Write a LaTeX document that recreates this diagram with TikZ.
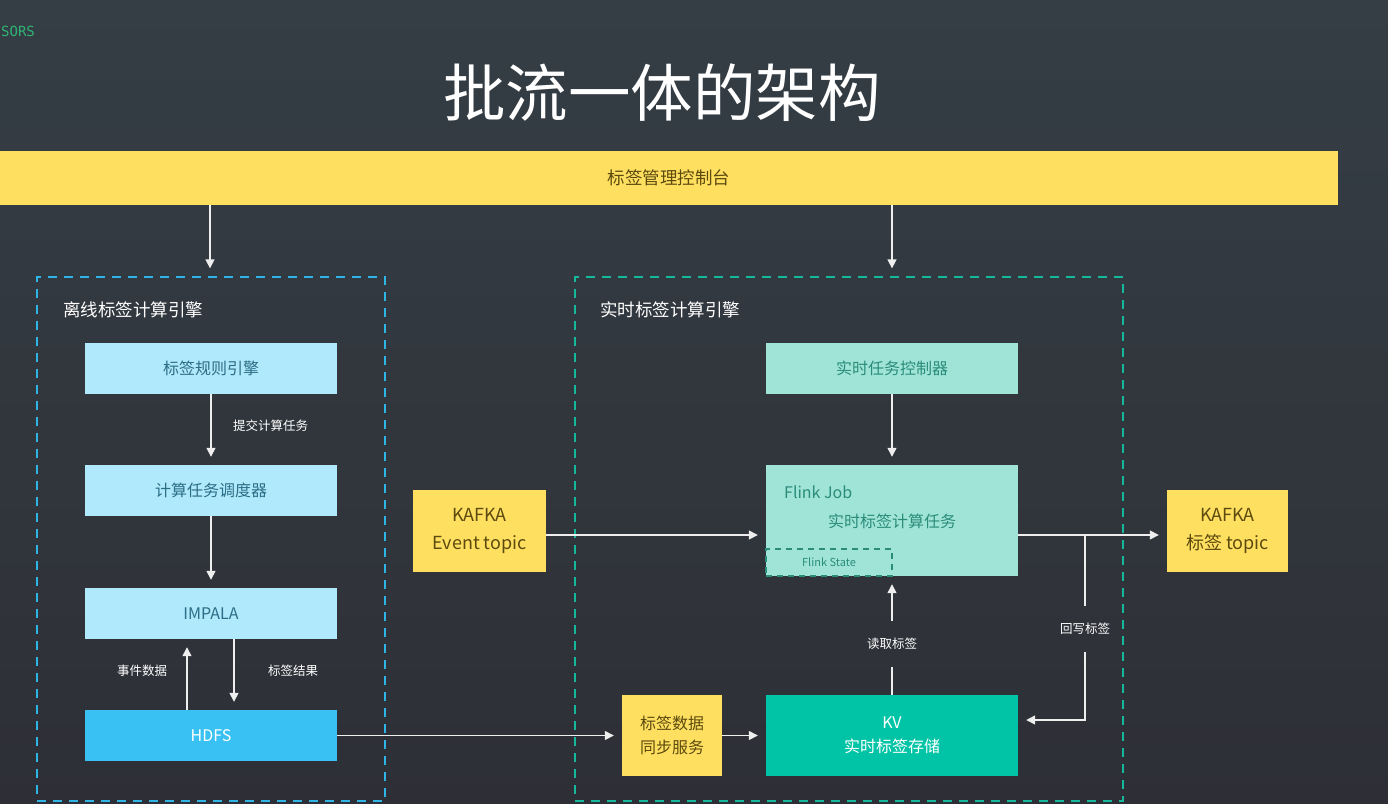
\documentclass[tikz,border=0pt]{standalone}
\usepackage{fontspec}
\setmainfont{Noto Sans CJK SC}
\newfontfamily\monofont{DejaVu Sans Mono}
\usetikzlibrary{arrows.meta}
\definecolor{bgtop}{HTML}{353E45}
\definecolor{bgbot}{HTML}{2E2F36}
\definecolor{ylw}{HTML}{FEDF60}
\definecolor{ylwtxt}{HTML}{5C4A0E}
\definecolor{lblue}{HTML}{B0E8FC}
\definecolor{lbluetxt}{HTML}{2B6E85}
\definecolor{hdfsc}{HTML}{38C1F2}
\definecolor{lteal}{HTML}{A0E4D8}
\definecolor{ltealtxt}{HTML}{2A8C79}
\definecolor{kvc}{HTML}{00C4A5}
\definecolor{dashblue}{HTML}{2EB5E6}
\definecolor{dashteal}{HTML}{14B89A}
\definecolor{linec}{HTML}{EEEEEE}
\definecolor{logoc}{HTML}{2FB574}
\tikzset{
  box/.style={inner sep=0pt, align=center, font=\fontsize{16}{22}\selectfont},
  ybox/.style={box, fill=ylw, text=ylwtxt},
  bbox/.style={box, fill=lblue, text=lbluetxt, minimum width=252pt, minimum height=51pt},
  tbox/.style={box, fill=lteal, text=ltealtxt},
  frame/.style={draw, dashed, dash pattern=on 9pt off 7pt, line width=1.3pt, inner sep=0pt},
  conn/.style={draw=linec, line width=1.4pt},
  arr/.style={conn, -{Triangle[length=9pt,width=9pt]}, shorten >=8pt},
  small/.style={text=white, font=\fontsize{12.5}{14}\selectfont, inner sep=0pt},
  hdr/.style={text=white, font=\fontsize{17.5}{20}\selectfont, anchor=west, inner sep=0pt},
}
\begin{document}
\begin{tikzpicture}[x=1pt,y=-1pt]
\useasboundingbox (0,0) rectangle (1388,803);
\shade[top color=bgtop, bottom color=bgbot] (0,0) rectangle (1388,803);
\node[anchor=west, text=logoc, font=\monofont\fontsize{14}{16}\selectfont, inner sep=0pt] (logo) at (1,31) {SORS};
\node[text=white, font=\fontsize{62.5}{70}\selectfont, inner sep=0pt] (title) at (662,93) {批流一体的架构};
% top bar
\node[ybox, minimum width=1338pt, minimum height=54pt, font=\fontsize{17.5}{20}\selectfont] (bar) at (669,178) {标签管理控制台};
% frames
\node[frame, draw=dashblue, minimum width=348pt, minimum height=524pt] (off) at (211,539) {};
\node[frame, draw=dashteal, minimum width=548pt, minimum height=524pt] (rt) at (849,539) {};
\node[hdr] (offl) at (63,310) {离线标签计算引擎};
\node[hdr] (rtl) at (600,310) {实时标签计算引擎};
% offline boxes
\node[bbox] (rule) at (211,368.5) {标签规则引擎};
\node[bbox] (sched) at (211,490.5) {计算任务调度器};
\node[bbox] (impala) at (211,613.5) {IMPALA};
\node[bbox, fill=hdfsc, text=white] (hdfs) at (211,735.5) {HDFS};
% kafka boxes
\node[ybox, minimum width=133pt, minimum height=82pt, font=\fontsize{18}{28}\selectfont] (kin) at (479.5,531) {KAFKA\\Event topic};
\node[ybox, minimum width=121pt, minimum height=82pt, font=\fontsize{18}{28}\selectfont] (kout) at (1227.5,531) {KAFKA\\标签 topic};
% realtime boxes
\node[tbox, minimum width=252pt, minimum height=51pt] (ctrl) at (892,368.5) {实时任务控制器};
\node[tbox, minimum width=252pt, minimum height=111pt] (flink) at (892,520.5) {};
\node[text=ltealtxt, anchor=west, inner sep=0pt, font=\fontsize{16}{18}\selectfont] (fjob) at (784,492) {Flink Job};
\node[text=ltealtxt, inner sep=0pt, font=\fontsize{16}{18}\selectfont] (ftask) at (892,521) {实时标签计算任务};
\node[draw=ltealtxt, dashed, dash pattern=on 6pt off 5pt, line width=1.3pt, minimum width=126pt, minimum height=27pt, inner sep=0pt, text=ltealtxt, font=\fontsize{11}{12}\selectfont] (fstate) at (829,562.5) {Flink State};
\node[ybox, minimum width=100pt, minimum height=81pt, font=\fontsize{16}{24}\selectfont] (sync) at (672,735.5) {标签数据\\同步服务};
\node[box, fill=kvc, text=white, minimum width=252pt, minimum height=81pt, font=\fontsize{16}{24}\selectfont] (kv) at (892,735.5) {KV\\实时标签存储};
% connectors
\draw[arr] (210,205) -- (off.north -| 210,0);
\draw[arr] (bar.south -| flink.north) -- (rt.north -| flink.north);
\draw[arr] (rule) -- (sched);
\node[small, anchor=west] (submit) at (233,426) {提交计算任务};
\draw[arr] (sched) -- (impala);
\draw[arr] (hdfs.north -| 187,0) -- (impala.south -| 187,0);
\draw[arr] (impala.south -| 234,0) -- (hdfs.north -| 234,0);
\node[small] (evd) at (142,671) {事件数据};
\node[small] (res) at (293,671) {标签结果};
\draw[arr] (hdfs) -- (sync);
\draw[arr] (sync) -- (kv);
\draw[arr] (kin.east |- 0,535) -- (flink.west |- 0,535);
\draw[arr] (ctrl) -- (flink);
\draw[arr] (flink.east |- 0,535) -- (kout.west |- 0,535);
\node[small, inner ysep=17pt] (read) at (892,644) {读取标签};
\draw[conn] (kv.north) -- (read.south);
\draw[arr] (read.north) -- (flink.south);
\coordinate (br) at (1085,535);
\node[small, inner ysep=17pt] (wb) at (1085,629) {回写标签};
\draw[conn] (br) -- (wb.north);
\draw[arr] (wb.south) |- (kv.east |- 0,720);
\end{tikzpicture}
\end{document}
